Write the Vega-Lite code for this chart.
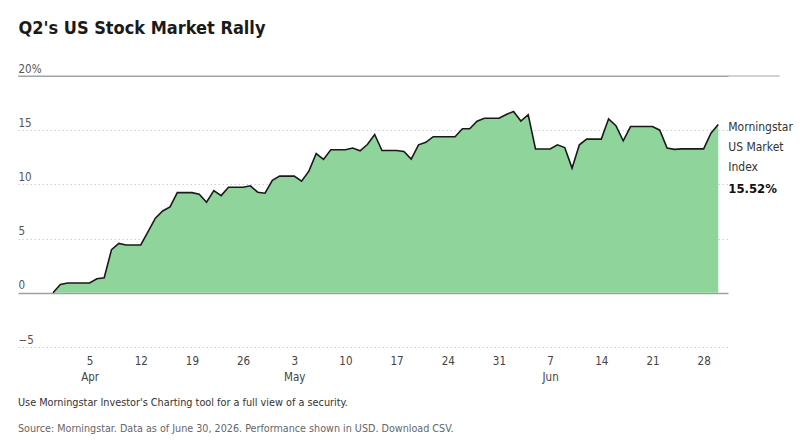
{
  "$schema": "https://vega.github.io/schema/vega-lite/v6.json",
  "width": 710,
  "height": 271,
  "autosize": {"type": "none"},
  "padding": {"left": 18, "top": 76, "right": 72, "bottom": 94},
  "background": "white",
  "config": {
    "view": {"stroke": null},
    "font": "DejaVu Sans Condensed, sans-serif"
  },
  "title": {
    "text": "Use Morningstar Investor's Charting tool for a full view of a security.",
    "subtitle": "Source: Morningstar. Data as of June 30, 2026. Performance shown in USD. Download CSV.",
    "orient": "bottom",
    "anchor": "start",
    "frame": "group",
    "baseline": "top",
    "fontSize": 10.8,
    "fontWeight": "normal",
    "color": "#333333",
    "subtitleFontSize": 10.7,
    "subtitleColor": "#666666",
    "subtitlePadding": 17,
    "offset": 14
  },
  "data": {
    "format": {"parse": {"date": "date"}},
    "values": [
      {"date": "2026-03-31", "value": 0},
      {"date": "2026-04-01", "value": 0.76},
      {"date": "2026-04-02", "value": 0.9},
      {"date": "2026-04-03", "value": 0.9},
      {"date": "2026-04-04", "value": 0.9},
      {"date": "2026-04-05", "value": 0.9},
      {"date": "2026-04-06", "value": 1.3},
      {"date": "2026-04-07", "value": 1.39},
      {"date": "2026-04-08", "value": 3.98},
      {"date": "2026-04-09", "value": 4.56},
      {"date": "2026-04-10", "value": 4.41},
      {"date": "2026-04-11", "value": 4.41},
      {"date": "2026-04-12", "value": 4.41},
      {"date": "2026-04-13", "value": 5.64},
      {"date": "2026-04-14", "value": 6.88},
      {"date": "2026-04-15", "value": 7.55},
      {"date": "2026-04-16", "value": 7.92},
      {"date": "2026-04-17", "value": 9.24},
      {"date": "2026-04-18", "value": 9.24},
      {"date": "2026-04-19", "value": 9.24},
      {"date": "2026-04-20", "value": 9.09},
      {"date": "2026-04-21", "value": 8.35},
      {"date": "2026-04-22", "value": 9.43},
      {"date": "2026-04-23", "value": 8.97},
      {"date": "2026-04-24", "value": 9.74},
      {"date": "2026-04-25", "value": 9.74},
      {"date": "2026-04-26", "value": 9.74},
      {"date": "2026-04-27", "value": 9.87},
      {"date": "2026-04-28", "value": 9.28},
      {"date": "2026-04-29", "value": 9.19},
      {"date": "2026-04-30", "value": 10.38},
      {"date": "2026-05-01", "value": 10.76},
      {"date": "2026-05-02", "value": 10.76},
      {"date": "2026-05-03", "value": 10.76},
      {"date": "2026-05-04", "value": 10.3},
      {"date": "2026-05-05", "value": 11.22},
      {"date": "2026-05-06", "value": 12.85},
      {"date": "2026-05-07", "value": 12.3},
      {"date": "2026-05-08", "value": 13.19},
      {"date": "2026-05-09", "value": 13.19},
      {"date": "2026-05-10", "value": 13.19},
      {"date": "2026-05-11", "value": 13.35},
      {"date": "2026-05-12", "value": 13.1},
      {"date": "2026-05-13", "value": 13.68},
      {"date": "2026-05-14", "value": 14.6},
      {"date": "2026-05-15", "value": 13.13},
      {"date": "2026-05-16", "value": 13.13},
      {"date": "2026-05-17", "value": 13.13},
      {"date": "2026-05-18", "value": 13.03},
      {"date": "2026-05-19", "value": 12.33},
      {"date": "2026-05-20", "value": 13.65},
      {"date": "2026-05-21", "value": 13.88},
      {"date": "2026-05-22", "value": 14.4},
      {"date": "2026-05-23", "value": 14.4},
      {"date": "2026-05-24", "value": 14.4},
      {"date": "2026-05-25", "value": 14.4},
      {"date": "2026-05-26", "value": 15.13},
      {"date": "2026-05-27", "value": 15.13},
      {"date": "2026-05-28", "value": 15.83},
      {"date": "2026-05-29", "value": 16.1},
      {"date": "2026-05-30", "value": 16.1},
      {"date": "2026-05-31", "value": 16.1},
      {"date": "2026-06-01", "value": 16.45},
      {"date": "2026-06-02", "value": 16.73},
      {"date": "2026-06-03", "value": 15.85},
      {"date": "2026-06-04", "value": 16.43},
      {"date": "2026-06-05", "value": 13.27},
      {"date": "2026-06-06", "value": 13.27},
      {"date": "2026-06-07", "value": 13.27},
      {"date": "2026-06-08", "value": 13.65},
      {"date": "2026-06-09", "value": 13.4},
      {"date": "2026-06-10", "value": 11.5},
      {"date": "2026-06-11", "value": 13.65},
      {"date": "2026-06-12", "value": 14.18},
      {"date": "2026-06-13", "value": 14.18},
      {"date": "2026-06-14", "value": 14.18},
      {"date": "2026-06-15", "value": 16.05},
      {"date": "2026-06-16", "value": 15.41},
      {"date": "2026-06-17", "value": 14.02},
      {"date": "2026-06-18", "value": 15.34},
      {"date": "2026-06-19", "value": 15.34},
      {"date": "2026-06-20", "value": 15.34},
      {"date": "2026-06-21", "value": 15.34},
      {"date": "2026-06-22", "value": 15.0},
      {"date": "2026-06-23", "value": 13.35},
      {"date": "2026-06-24", "value": 13.23},
      {"date": "2026-06-25", "value": 13.28},
      {"date": "2026-06-26", "value": 13.28},
      {"date": "2026-06-27", "value": 13.28},
      {"date": "2026-06-28", "value": 13.28},
      {"date": "2026-06-29", "value": 14.73},
      {"date": "2026-06-30", "value": 15.52}
    ]
  },
  "layer": [
    {
      "mark": {
        "type": "area",
        "color": "#8fd49b",
        "opacity": 1,
        "interpolate": "linear",
        "line": {"color": "#1a1a1a", "strokeWidth": 1.6}
      },
      "encoding": {
        "x": {
          "field": "date",
          "type": "temporal",
          "scale": {
            "type": "utc",
            "domain": [
              {"year": 2026, "month": 3, "date": 26, "hours": 5, "utc": true},
              {"year": 2026, "month": 7, "date": 1, "hours": 8, "utc": true}
            ]
          },
          "axis": {
            "title": null,
            "domain": false,
            "ticks": false,
            "grid": false,
            "labelFontSize": 11.5,
            "labelColor": "#444444",
            "labelPadding": 8,
            "labelBaseline": "top",
            "labelLineHeight": 16,
            "labelFlush": false,
            "labelOverlap": false,
            "values": [
              {"year": 2026, "month": 4, "date": 5, "utc": true},
              {"year": 2026, "month": 4, "date": 12, "utc": true},
              {"year": 2026, "month": 4, "date": 19, "utc": true},
              {"year": 2026, "month": 4, "date": 26, "utc": true},
              {"year": 2026, "month": 5, "date": 3, "utc": true},
              {"year": 2026, "month": 5, "date": 10, "utc": true},
              {"year": 2026, "month": 5, "date": 17, "utc": true},
              {"year": 2026, "month": 5, "date": 24, "utc": true},
              {"year": 2026, "month": 5, "date": 31, "utc": true},
              {"year": 2026, "month": 6, "date": 7, "utc": true},
              {"year": 2026, "month": 6, "date": 14, "utc": true},
              {"year": 2026, "month": 6, "date": 21, "utc": true},
              {"year": 2026, "month": 6, "date": 28, "utc": true}
            ],
            "labelExpr": "utcdate(datum.value) <= 7 ? [utcFormat(datum.value, '%-d'), utcFormat(datum.value, '%b')] : utcFormat(datum.value, '%-d')"
          }
        },
        "y": {
          "field": "value",
          "type": "quantitative",
          "scale": {"domain": [-5, 20], "nice": false, "zero": false},
          "axis": {
            "orient": "left",
            "domain": false,
            "ticks": false,
            "grid": true,
            "values": [-5, 0, 5, 10, 15, 20],
            "labelAlign": "left",
            "labelBaseline": "alphabetic",
            "labelPadding": 0,
            "labelOffset": -4,
            "labelFontSize": 11.5,
            "labelColor": "#555555",
            "labelFlush": false,
            "labelOverlap": false,
            "labelExpr": "datum.value == 20 ? '20%' : (datum.value < 0 ? '\u2212' + abs(datum.value) : datum.label)",
            "gridColor": {"condition": {"test": "datum.value == 0 || datum.value == 20", "value": "#a0a0a0"}, "value": "#cfcfcf"},
            "gridDash": {"condition": {"test": "datum.value == 0 || datum.value == 20", "value": []}, "value": [1.5, 2.5]},
            "gridWidth": {"condition": {"test": "datum.value == 0", "value": 1.5}, "value": 1},
            "title": "Q2's US Stock Market Rally",
            "titleAngle": 0,
            "titleX": 0,
            "titleY": -43,
            "titleAlign": "left",
            "titleBaseline": "alphabetic",
            "titleFontSize": 18,
            "titleFontWeight": "bold",
            "titleColor": "#1a1a1a"
          }
        }
      }
    },
    {
      "data": {"values": [{"start": "2026-03-26T05:00:00Z", "end": "2026-07-08T10:00:00Z", "level": 20}]},
      "mark": {"type": "rule", "color": "#a6a6a6", "strokeWidth": 1.2},
      "encoding": {
        "x": {"field": "start", "type": "temporal"},
        "x2": {"field": "end"},
        "y": {"field": "level", "type": "quantitative"}
      }
    },
    {
      "transform": [{"filter": "utcmonth(datum.date) == 5 && utcdate(datum.date) == 30"}],
      "mark": {
        "type": "text",
        "align": "left",
        "baseline": "alphabetic",
        "dx": 10,
        "dy": 6,
        "fontSize": 12,
        "lineHeight": 20,
        "color": "#333333"
      },
      "encoding": {
        "x": {"field": "date", "type": "temporal"},
        "y": {"field": "value", "type": "quantitative"},
        "text": {"value": ["Morningstar", "US Market", "Index"]}
      }
    },
    {
      "transform": [{"filter": "utcmonth(datum.date) == 5 && utcdate(datum.date) == 30"}],
      "mark": {
        "type": "text",
        "align": "left",
        "baseline": "alphabetic",
        "dx": 10,
        "dy": 68,
        "fontSize": 13,
        "fontWeight": "bold",
        "color": "#111111"
      },
      "encoding": {
        "x": {"field": "date", "type": "temporal"},
        "y": {"field": "value", "type": "quantitative"},
        "text": {"value": "15.52%"}
      }
    }
  ]
}
